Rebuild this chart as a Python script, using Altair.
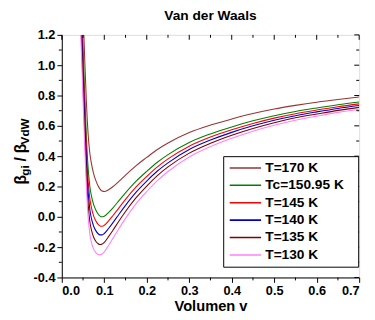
import altair as alt
import pandas as pd

# ---- data ----
v = [0.042, 0.046, 0.05, 0.054, 0.058, 0.062, 0.066, 0.07, 0.075, 0.08, 0.085, 0.09, 0.095,
     0.1, 0.11, 0.12, 0.135, 0.15, 0.175, 0.2, 0.225, 0.25, 0.3, 0.35, 0.4, 0.45, 0.5,
     0.55, 0.6, 0.65, 0.7]
T170 = [2.03, 1.697, 1.361, 1.035, 0.750, 0.544, 0.419, 0.348, 0.284, 0.240, 0.206, 0.183, 0.170,
        0.167, 0.179, 0.198, 0.235, 0.275, 0.338, 0.392, 0.444, 0.487, 0.556, 0.605, 0.645, 0.681,
        0.711, 0.735, 0.756, 0.774, 0.790]
Tc = [1.78, 1.45, 1.12, 0.80, 0.52, 0.32, 0.20, 0.135, 0.08, 0.045, 0.02, 0.005, 0.0,
      0.004, 0.028, 0.058, 0.108, 0.158, 0.235, 0.30, 0.36, 0.41, 0.49, 0.547, 0.593, 0.633,
      0.667, 0.695, 0.718, 0.739, 0.757]
T145 = [1.688, 1.360, 1.032, 0.714, 0.436, 0.238, 0.120, 0.057, 0.005, -0.026, -0.048, -0.060, -0.062,
        -0.056, -0.027, 0.007, 0.061, 0.115, 0.197, 0.266, 0.329, 0.382, 0.466, 0.526, 0.574, 0.616,
        0.651, 0.680, 0.704, 0.726, 0.745]
T140 = [1.604, 1.278, 0.952, 0.636, 0.360, 0.164, 0.048, -0.014, -0.062, -0.091, -0.110, -0.119, -0.119,
        -0.110, -0.077, -0.040, 0.019, 0.076, 0.163, 0.236, 0.302, 0.356, 0.444, 0.506, 0.557, 0.600,
        0.637, 0.667, 0.692, 0.715, 0.734]
T135 = [1.514, 1.190, 0.866, 0.552, 0.278, 0.084, -0.031, -0.090, -0.135, -0.161, -0.176, -0.183, -0.179,
        -0.168, -0.131, -0.090, -0.026, 0.035, 0.126, 0.203, 0.272, 0.329, 0.420, 0.485, 0.538, 0.583,
        0.621, 0.653, 0.678, 0.702, 0.722]
T130 = [1.417, 1.095, 0.773, 0.462, 0.190, -0.002, -0.114, -0.171, -0.213, -0.236, -0.248, -0.251, -0.245,
        -0.231, -0.189, -0.144, -0.075, -0.010, 0.087, 0.167, 0.239, 0.299, 0.395, 0.463, 0.518, 0.565,
        0.604, 0.637, 0.664, 0.689, 0.709]

series_names = ["T=170 K", "Tc=150.95 K", "T=145 K", "T=140 K", "T=135 K", "T=130 K"]
series_vals = [T170, Tc, T145, T140, T135, T130]
series_colors = ["#993333", "#008000", "#ff0000", "#0000cc", "#800000", "#ff80ff"]

x_major = [0.0, 0.1, 0.2, 0.3, 0.4, 0.5, 0.6, 0.7]
x_minor = [0.05, 0.15, 0.25, 0.35, 0.45, 0.55, 0.65]
y_major = [-0.4, -0.2, 0.0, 0.2, 0.4, 0.6, 0.8, 1.0, 1.2]
y_minor = [-0.3, -0.1, 0.1, 0.3, 0.5, 0.7, 0.9, 1.1]

W, H = 304, 248
FONT = "Liberation Sans"

rows = []
for name, vals in zip(series_names, series_vals):
    for xv, yv in zip(v, vals):
        rows.append({"v": xv, "val": yv, "serie": name})
df = pd.DataFrame(rows)

xscale = alt.Scale(domain=[0, 0.7], nice=False, zero=False)
yscale = alt.Scale(domain=[-0.4, 1.2], nice=False, zero=False)

common_axis = dict(grid=False, tickSize=5, tickColor="black", tickWidth=1,
                   domainColor="black", domainWidth=1,
                   labelFont=FONT, labelFontSize=13, labelFontWeight="bold", labelColor="black",
                   titleFont=FONT, titleFontSize=15, titleFontWeight="bold", titleColor="black")

xaxis = alt.Axis(values=x_major, format=".1f", title="Volumen v", labelPadding=2,
                 titlePadding=2, **common_axis)
yaxis = alt.Axis(values=y_major, title=None, labelPadding=2,
                 labelExpr="datum.value < 0 ? '-' + format(-datum.value, '.1f') : format(datum.value, '.1f')",
                 **common_axis)

lines = alt.Chart(df).mark_line(clip=True, strokeWidth=1.1, interpolate="monotone").encode(
    x=alt.X("v:Q", scale=xscale, axis=xaxis),
    y=alt.Y("val:Q", scale=yscale, axis=yaxis),
    color=alt.Color("serie:N",
                    scale=alt.Scale(domain=series_names, range=series_colors),
                    legend=alt.Legend(title="\u2002", titleOrient="right", titleFontSize=8,
                                      titlePadding=10,
                                      orient="none", legendX=165, legendY=124,
                                      strokeColor="black", fillColor="white", padding=5,
                                      symbolType="M-1,0L5,0", symbolSize=114, symbolStrokeWidth=1.6,
                                      labelFontSize=14, labelFont=FONT, labelFontWeight="bold",
                                      labelColor="black", labelOffset=24, rowPadding=3.8)),
    detail="serie:N",
)

xmaj_df = pd.DataFrame({"t": x_major})
xmin_df = pd.DataFrame({"t": x_minor})
ymaj_df = pd.DataFrame({"t": y_major})
ymin_df = pd.DataFrame({"t": y_minor})

def xrule(data, y0, y1):
    return alt.Chart(data).mark_rule(color="black", strokeWidth=1).encode(
        x=alt.X("t:Q", scale=xscale, axis=xaxis), y=alt.value(y0), y2=alt.value(y1))

def yrule(data, x0, x1):
    return alt.Chart(data).mark_rule(color="black", strokeWidth=1).encode(
        y=alt.Y("t:Q", scale=yscale, axis=yaxis), x=alt.value(x0), x2=alt.value(x1))

ticks = [
    xrule(xmin_df, H, H + 3),      # bottom minor, outward
    xrule(xmaj_df, 0, 5),          # top major, inward
    xrule(xmin_df, 0, 3),          # top minor, inward
    yrule(ymin_df, 0, -3),         # left minor, outward
    yrule(ymaj_df, W, W - 5),      # right major, inward
    yrule(ymin_df, W, W - 3),      # right minor, inward
]

one = alt.Data(values=[{}])
def ytitle(txt, ypos, size, dy=0):
    return alt.Chart(one).mark_text(text=txt, angle=270, align="left", baseline="middle",
                                    font=FONT, fontWeight="bold", fontSize=size, dy=dy,
                                    color="black").encode(x=alt.value(-42), y=alt.value(ypos))

titles = [
    ytitle("β", 153, 16),
    ytitle("gi", 144, 12, 4),
    ytitle("/", 129.5, 16),
    ytitle("β", 121, 16),
    ytitle("VdW", 112, 12, 4),
]

chart = alt.layer(lines, *ticks, *titles).properties(
    width=W, height=H,
    title=alt.TitleParams("Van der Waals", font=FONT, fontSize=14, fontWeight="bold",
                          anchor="middle", offset=6, color="black"),
    autosize=alt.AutoSizeParams(type="none"),
    padding={"left": 55, "top": 24, "right": 8, "bottom": 40},
).configure_view(stroke="black", strokeWidth=1).configure(background="white")

chart.save("out.html", embed_options={"renderer": "svg", "actions": False})
